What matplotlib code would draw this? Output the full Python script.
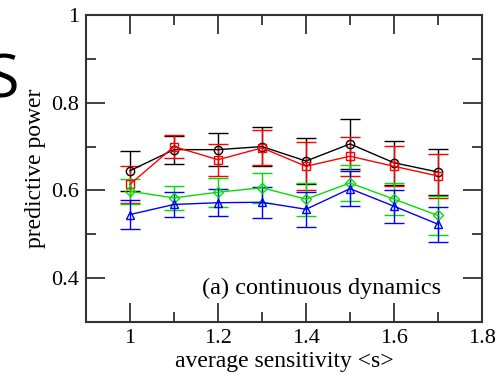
import matplotlib
matplotlib.use("Agg")
import matplotlib.pyplot as plt
from matplotlib.ticker import MultipleLocator

x = [1.0, 1.1, 1.2, 1.3, 1.4, 1.5, 1.6, 1.7]
black = [0.645, 0.693, 0.693, 0.700, 0.667, 0.706, 0.663, 0.642]
black_err = [0.046, 0.032, 0.038, 0.044, 0.053, 0.058, 0.050, 0.052]
red = [0.614, 0.700, 0.670, 0.697, 0.655, 0.678, 0.655, 0.633]
red_err = [0.042, 0.027, 0.037, 0.040, 0.055, 0.044, 0.046, 0.050]
green = [0.598, 0.583, 0.596, 0.606, 0.580, 0.617, 0.580, 0.543]
green_err = [0.028, 0.028, 0.033, 0.034, 0.038, 0.042, 0.037, 0.045]
blue = [0.545, 0.568, 0.572, 0.573, 0.557, 0.604, 0.564, 0.523]
blue_err = [0.034, 0.028, 0.031, 0.035, 0.040, 0.040, 0.038, 0.040]

series = [
    (black, black_err, "black", "o"),
    (red, red_err, "red", "s"),
    (green, green_err, "#00e000", "D"),
    (blue, blue_err, "blue", "^"),
]

plt.rcParams["font.family"] = ["Liberation Serif", "DejaVu Serif"]

fig = plt.figure(figsize=(4.99, 3.81), dpi=100)
ax = fig.add_axes([86/499, 1-322/381, (482-86)/499, (322-15)/381])

for vals, errs, col, mk in series:
    ax.errorbar(x, vals, yerr=errs, color=col, marker=mk, mfc="none", mec=col,
                ms=6 if mk != "D" else 5, mew=1.0, lw=1.0, elinewidth=1.0,
                capsize=7, capthick=1.0)

ax.set_xlim(0.9, 1.8)
ax.set_ylim(0.3, 1.0)
ax.xaxis.set_minor_locator(MultipleLocator(0.1))
ax.yaxis.set_minor_locator(MultipleLocator(0.1))
ax.set_xticks([1.0, 1.2, 1.4, 1.6, 1.8])
ax.set_xticklabels(["1", "1.2", "1.4", "1.6", "1.8"])
ax.set_yticks([0.4, 0.6, 0.8, 1.0])
ax.set_yticklabels(["0.4", "0.6", "0.8", "1"])
ax.tick_params(which="both", direction="in", top=True, right=True, labelsize=16,
               colors="#333333", labelcolor="black")
ax.tick_params(which="major", length=14, width=1.3, pad=5)
ax.tick_params(which="minor", length=7, width=1.3)
for sp in ax.spines.values():
    sp.set_linewidth(1.5)
    sp.set_color("#333333")

ax.set_xlabel("average sensitivity <s>", fontsize=17, labelpad=2)
ax.set_ylabel("predictive power", fontsize=17, labelpad=4)
ax.text(0.897, 0.11, "(a) continuous dynamics", transform=ax.transAxes,
        ha="right", va="center", fontsize=17.5)

fig.text(19/499, 1-97/381, "S", ha="right", va="baseline", fontsize=44,
         family=["Open Sans", "DejaVu Sans"])

fig.savefig("out.png", dpi=100)
